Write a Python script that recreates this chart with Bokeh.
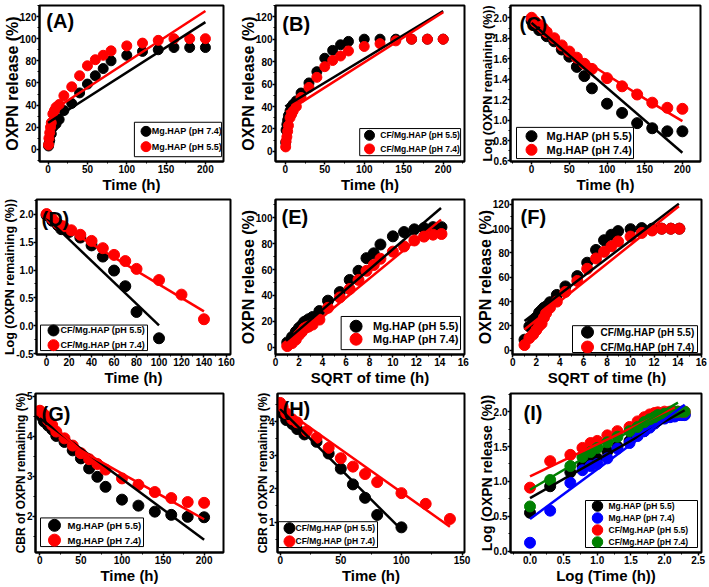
from bokeh.plotting import figure
from bokeh.layouts import column, row
from bokeh.models import Range1d, SingleIntervalTicker, NumeralTickFormatter
from bokeh.core.properties import value
from bokeh.embed import file_html
from bokeh.resources import INLINE

FONT = "Liberation Sans"
BLK, RED, BLU, GRN = "#000000", "#ff0000", "#0000ff", "#008000"

# ---------------- data ----------------
# (A) Mg.HAP release vs time
a_t_74 = [0.5, 1, 2, 4, 6, 10, 14, 20, 30, 40, 50, 60, 70, 80, 100, 120, 140, 160, 180, 200]
a_v_74 = [3, 5, 8, 14, 20, 23, 27, 35, 41.5, 51, 59, 66.5, 73, 80, 85, 88.5, 90, 92, 92, 92]
a_t_55 = [0.5, 1, 2, 3, 4, 6, 8, 10, 14, 20, 30, 40, 50, 60, 70, 80, 100, 120, 140, 160, 180, 200]
a_v_55 = [4, 10, 15, 20, 24, 32, 35, 38, 40.5, 48.5, 56.5, 66.5, 75.5, 81, 85, 89, 93.5, 96, 98.5, 100, 100, 100]
a_fit_74_x = [0, 200]
a_fit_74_y = [24, 115]
a_fit_55_x = [1, 200]
a_fit_55_y = [33, 125]

# (B) CF/Mg.HAP release vs time
b_t = [0.5, 1, 2, 3, 4, 6, 8, 10, 14, 20, 30, 40, 50, 60, 70, 80, 100, 120, 140, 160, 180, 200]
b_v_55 = [8, 19, 24, 28, 32, 36, 40, 42, 45, 52, 61, 71, 83, 90, 95, 98, 100, 100, 100, 100, 100, 100]
b_v_74 = [4, 9, 13, 18, 23, 30, 33, 36, 40, 48, 57, 66, 75.5, 81, 85, 89.5, 93.5, 96, 98.5, 100, 100, 100]
b_fit_55_x = [0, 200]
b_fit_55_y = [40, 125]
b_fit_74_x = [1, 200]
b_fit_74_y = [35, 124]

# (C) Mg.HAP log remaining
c_t_55 = [0, 5, 10, 20, 30, 40, 50, 60, 70, 80, 100, 120, 140, 160, 180, 200]
c_v_55 = [1.97, 1.93, 1.88, 1.82, 1.77, 1.69, 1.62, 1.52, 1.43, 1.31, 1.16, 1.07, 0.97, 0.92, 0.89, 0.89]
c_t_74 = [0, 5, 10, 15, 20, 30, 40, 50, 60, 70, 80, 100, 120, 140, 160, 180, 200]
c_v_74 = [2.0, 1.96, 1.93, 1.90, 1.86, 1.80, 1.73, 1.67, 1.61, 1.55, 1.50, 1.41, 1.33, 1.25, 1.17, 1.12, 1.11]
c_fit_55_x = [0, 200]
c_fit_55_y = [1.95, 0.68]
c_fit_74_x = [0, 50, 100, 150, 200]
c_fit_74_y = [1.99, 1.68, 1.44, 1.21, 0.99]

# (D) CF/Mg.HAP log remaining
d_t_55 = [0, 5, 10, 13, 20, 30, 40, 50, 60, 70, 80, 100]
d_v_55 = [1.98, 1.88, 1.80, 1.73, 1.68, 1.58, 1.44, 1.24, 0.99, 0.71, 0.25, -0.22]
d_t_74 = [0, 5, 10, 15, 22, 30, 40, 50, 60, 70, 80, 100, 120, 140]
d_v_74 = [2.0, 1.91, 1.83, 1.78, 1.71, 1.63, 1.52, 1.39, 1.27, 1.16, 1.02, 0.82, 0.56, 0.12]
d_fit_55_x = [0, 100]
d_fit_55_y = [1.93, 0.01]
d_fit_74_x = [0, 140]
d_fit_74_y = [1.95, 0.26]

# (E)/(F) release vs square root of time
sq_t = [1.0, 1.41, 1.73, 2.0, 2.24, 2.45, 2.65, 2.83, 3.16, 3.74, 4.47, 5.48, 6.32,
        7.07, 7.75, 8.37, 8.94, 10.0, 10.95, 11.83, 12.65, 13.42, 14.14]
e_v_55 = [3.8, 8, 12, 15, 17, 19.6, 20.5, 21.7, 23.4, 28, 36, 42.6, 52, 59, 68.8, 72.5,
          79.3, 85.6, 88.9, 91, 92, 92.7, 92.7]
e_v_74 = [1, 3.3, 6, 9.6, 12, 14.6, 15.5, 16.1, 17.6, 21.4, 30.5, 38.5, 45, 52, 59, 63.5,
          68.3, 73.8, 77.8, 82.4, 85.4, 86.9, 87.4]
e_fit_55_x = [0.9, 14.1]
e_fit_55_y = [5, 107.5]
e_fit_74_x = [1, 14.1]
e_fit_74_y = [1, 98.5]
f_v_55 = [8.7, 19.6, 24, 27, 31, 33, 35, 36, 39.5, 45.5, 52.5, 61, 72, 82.5, 90.5, 95,
          98, 99.6, 100.5, 100, 100, 100, 100]
f_v_74 = [4.3, 10, 13, 16.6, 20, 22, 27, 30.5, 35, 40, 48, 57, 67, 75.5, 81, 85.5, 89.5,
          93.5, 96.5, 98.5, 100, 100, 100]
f_fit_55_x = [1, 14.1]
f_fit_55_y = [24, 120.5]
f_fit_74_x = [1, 14.1]
f_fit_74_y = [17, 118.5]

# (G) Mg.HAP cube root remaining
g_t_55 = [0, 2, 5, 10, 15, 20, 30, 40, 50, 60, 70, 80, 100, 120, 140, 160, 180, 200]
g_v_55 = [4.62, 4.5, 4.37, 4.27, 4.17, 4.01, 3.86, 3.65, 3.45, 3.20, 2.99, 2.74, 2.42,
          2.27, 2.12, 2.04, 1.99, 1.98]
g_t_74 = [0, 5, 10, 15, 20, 30, 40, 50, 60, 70, 80, 100, 120, 140, 160, 180, 200]
g_v_74 = [4.64, 4.55, 4.40, 4.28, 4.12, 3.95, 3.77, 3.58, 3.43, 3.31, 3.17, 2.95, 2.79,
          2.61, 2.46, 2.36, 2.34]
g_fit_55_x = [0, 200]
g_fit_55_y = [4.45, 1.42]
g_fit_74_x = [0, 25, 50, 100, 150, 200]
g_fit_74_y = [4.6, 4.1, 3.65, 3.07, 2.5, 1.93]

# (H) CF/Mg.HAP cube root remaining
h_t_55 = [0, 2, 5, 10, 14, 20, 30, 40, 50, 60, 70, 80, 100]
h_v_55 = [4.3, 4.25, 4.05, 3.93, 3.78, 3.62, 3.40, 3.05, 2.60, 2.13, 1.73, 1.22, 0.85]
h_t_74 = [0, 2, 5, 10, 14, 22, 30, 40, 50, 60, 70, 80, 100, 120, 140]
h_v_74 = [4.56, 4.45, 4.25, 4.07, 3.98, 3.72, 3.52, 3.22, 2.91, 2.66, 2.44, 2.20, 1.87,
          1.55, 1.10]
h_fit_55_x = [0, 100]
h_fit_55_y = [4.38, 0.78]
h_fit_74_x = [0, 140]
h_fit_74_y = [4.45, 0.87]

# (I) log release vs log time
i_t = [0, 0.30, 0.60, 0.78, 0.90, 1.0, 1.15, 1.30, 1.48, 1.60, 1.70, 1.78, 1.85, 1.90,
       2.0, 2.08, 2.15, 2.20, 2.26, 2.30]
i_mg55 = [0.55, 0.93, 1.13, 1.22, 1.28, 1.33, 1.43, 1.50, 1.58, 1.66, 1.72, 1.78, 1.83,
          1.87, 1.91, 1.93, 1.94, 1.95, 1.96, 1.96]
i_mg74 = [0.12, 0.58, 0.98, 1.16, 1.22, 1.25, 1.33, 1.47, 1.55, 1.65, 1.72, 1.77, 1.83,
          1.87, 1.90, 1.92, 1.93, 1.95, 1.95, 1.95]
i_cf55 = [0.91, 1.29, 1.38, 1.48, 1.55, 1.58, 1.66, 1.72, 1.78, 1.86, 1.92, 1.96, 1.98,
          1.99, 2.0, 2.0, 2.0, 2.0, 2.0, 2.0]
i_cf74 = [0.64, 1.02, 1.22, 1.35, 1.42, 1.48, 1.56, 1.64, 1.72, 1.78, 1.85, 1.89, 1.92,
          1.95, 1.97, 1.98, 1.99, 2.0, 2.0, 2.0]
i_fit_mg55 = ([0, 2.3], [0.76, 2.02])
i_fit_mg74 = ([0, 2.3], [0.46, 2.10])
i_fit_cf55 = ([0, 2.15], [1.07, 2.06])
i_fit_cf74 = ([0, 2.2], [0.88, 2.13])


# ---------------- helpers ----------------
def make_panel(w, h, border, xr, yr, xint, yint, xlabel, ylabel, ylab_fs,
               yfmt=None, xfmt=None):
    l, r, t, b = border
    p = figure(width=w, height=h, x_range=Range1d(*xr), y_range=Range1d(*yr),
               output_backend="svg", toolbar_location=None,
               min_border_left=l, min_border_right=r, min_border_top=t,
               min_border_bottom=b, background_fill_color="white",
               border_fill_color="white")
    p._fw = w - l - r
    p._fh = h - t - b
    # pixel-like helper coordinates for annotations (legend box, panel letter)
    p.extra_x_ranges = {"px": Range1d(0, p._fw)}
    p.extra_y_ranges = {"px": Range1d(0, p._fh)}
    p.xgrid.visible = False
    p.ygrid.visible = False
    p.outline_line_color = "black"
    p.outline_line_width = 2
    for ax, itv in ((p.xaxis[0], xint), (p.yaxis[0], yint)):
        ax.ticker = SingleIntervalTicker(interval=itv, num_minor_ticks=2)
        ax.axis_line_width = 2
        ax.axis_line_color = "black"
        ax.major_tick_out = 3
        ax.major_tick_in = 0
        ax.minor_tick_out = 2
        ax.minor_tick_in = 0
        ax.major_tick_line_width = 1.5
        ax.minor_tick_line_width = 1
        ax.major_label_text_font = FONT
        ax.major_label_text_font_style = "bold"
        ax.major_label_text_font_size = "10px"
        ax.major_label_text_color = "black"
        ax.major_label_standoff = 0
        ax.axis_label_text_font = FONT
        ax.axis_label_text_font_style = "bold"
        ax.axis_label_text_color = "black"
    p.xaxis.axis_label_standoff = 0
    p.yaxis.axis_label_standoff = -4
    p.xaxis.axis_label = xlabel
    p.yaxis.axis_label = ylabel
    p.xaxis.axis_label_text_font_size = "15px"
    p.yaxis.axis_label_text_font_size = f"{ylab_fs}px"
    if yfmt:
        p.yaxis.formatter = NumeralTickFormatter(format=yfmt)
    if xfmt:
        p.xaxis.formatter = NumeralTickFormatter(format=xfmt)
    return p


def panel_label(p, text, dx, dtop):
    p.text(x=[dx], y=[p._fh - dtop], text=[text], text_font=value(FONT),
           text_font_style="bold", text_font_size=value("20px"),
           text_baseline="top", text_align="left", text_color="black",
           x_range_name="px", y_range_name="px")


def legend_box(p, labels, colors, left, bottom, bw, bh, cx, cy, pitch, tx, fs, m):
    p.quad(left=[left], right=[left + bw], bottom=[bottom], top=[bottom + bh],
           fill_color="white", line_color="black", line_width=1,
           x_range_name="px", y_range_name="px")
    ys = [bottom + bh - cy - i * pitch for i in range(len(labels))]
    p.scatter([left + cx] * len(labels), ys, marker="circle", size=m,
              fill_color=colors, line_color=colors,
              x_range_name="px", y_range_name="px")
    p.text(x=[left + tx] * len(labels), y=ys, text=labels, text_font=value(FONT),
           text_font_style="bold", text_font_size=value(f"{fs}px"),
           text_baseline="middle", text_align="left", text_color="black",
           x_range_name="px", y_range_name="px")


def pts(p, x, y, color, size=11):
    return p.scatter(x, y, marker="circle", size=size, fill_color=color,
                     line_color=color)


def fit(p, x, y, color):
    p.line(x, y, line_color=color, line_width=2.5)


# ---------------- panels ----------------
# A
pA = make_panel(236, 195, (33, 13, 5, 27), (-11, 223), (-11, 130), 50, 20,
                "Time (h)", "OXPN release (%)", 16)
pts(pA, a_t_74, a_v_74, BLK, 10)
pts(pA, a_t_55, a_v_55, RED, 10)
fit(pA, a_fit_74_x, a_fit_74_y, BLK)
fit(pA, a_fit_55_x, a_fit_55_y, RED)
panel_label(pA, "(A)", 7, 5)
legend_box(pA, ["Mg.HAP (pH 7.4)", "Mg.HAP (pH 5.5)"], [BLK, RED],
           98, 5, 90, 36, 12, 9.5, 16, 18, 9, 10)

# B
pB = make_panel(236, 195, (35, 8, 5, 29), (-12.4, 227), (-9, 130), 50, 20,
                "Time (h)", "OXPN release (%)", 16)
pts(pB, b_t, b_v_55, BLK, 10)
pts(pB, b_t, b_v_74, RED, 10)
fit(pB, b_fit_55_x, b_fit_55_y, BLK)
fit(pB, b_fit_74_x, b_fit_74_y, RED)
panel_label(pB, "(B)", 7, 8)
legend_box(pB, ["CF/Mg.HAP (pH 5.5)", "CF/Mg.HAP (pH 7.4)"], [BLK, RED],
           86, 6, 103, 28, 10, 7, 14, 21, 8.5, 10)

# C
pC = make_panel(237, 195, (38, 9, 2, 33), (-28, 224), (0.595, 2.12), 50, 0.2,
                "Time (h)", "Log (OXPN remaining (%))", 12.5, yfmt="0.0")
pts(pC, c_t_55, c_v_55, BLK, 11)
pts(pC, c_t_74, c_v_74, RED, 11)
fit(pC, c_fit_55_x, c_fit_55_y, BLK)
fit(pC, c_fit_74_x, c_fit_74_y, RED)
panel_label(pC, "(C)", 9, 8)
legend_box(pC, ["Mg.HAP (pH 5.5)", "Mg.HAP (pH 7.4)"], [BLK, RED],
           6, 3, 117, 32, 15, 9, 14, 30, 11, 11)

# D
pD = make_panel(236, 195, (36, 6, 4, 33), (-9, 163.6), (-0.51, 2.26), 20, 0.5,
                "Time (h)", "Log (OXPN remaining (%))", 12.5, yfmt="0.0")
pts(pD, d_t_55, d_v_55, BLK, 11)
pts(pD, d_t_74, d_v_74, RED, 11)
fit(pD, d_fit_55_x, d_fit_55_y, BLK)
fit(pD, d_fit_74_x, d_fit_74_y, RED)
panel_label(pD, "(D)", 5, 9)
legend_box(pD, ["CF/Mg.HAP (pH 5.5)", "CF/Mg.HAP (pH 7.4)"], [BLK, RED],
           4, 4, 107, 26, 13, 5.5, 15, 20, 9, 11)

# E
pE = make_panel(236, 195, (38, 8, 3, 33), (0, 16.1), (-5.5, 114), 2, 20,
                "SQRT of time (h)", "OXPN release (%)", 16)
pts(pE, sq_t, e_v_55, BLK, 11)
pts(pE, sq_t, e_v_74, RED, 11)
fit(pE, e_fit_55_x, e_fit_55_y, BLK)
fit(pE, e_fit_74_x, e_fit_74_y, RED)
panel_label(pE, "(E)", 6, 7)
legend_box(pE, ["Mg.HAP (pH 5.5)", "Mg.HAP (pH 7.4)"], [BLK, RED],
           66, 5, 120, 34, 15, 10, 13.3, 32, 11, 12)

# F
pF = make_panel(237, 195, (40, 8, 3, 36), (-0.02, 16.02), (-3.5, 124), 2, 20,
                "SQRT of time (h)", "OXPN release (%)", 16)
pts(pF, sq_t, f_v_55, BLK, 11)
pts(pF, sq_t, f_v_74, RED, 11)
fit(pF, f_fit_55_x, f_fit_55_y, BLK)
fit(pF, f_fit_74_x, f_fit_74_y, RED)
panel_label(pF, "(F)", 8, 7)
legend_box(pF, ["CF/Mg.HAP (pH 5.5)", "CF/Mg.HAP (pH 7.4)"], [BLK, RED],
           60, 2, 125, 27, 15, 6.5, 15, 28, 10, 12)

# G
pG = make_panel(236, 197, (35, 13, 3, 33), (-5.3, 223.6), (1.1, 5.07), 50, 1,
                "Time (h)", "CBR of OXPN remaining (%)", 12)
pts(pG, g_t_55, g_v_55, BLK, 11)
pts(pG, g_t_74, g_v_74, RED, 11)
fit(pG, g_fit_55_x, g_fit_55_y, BLK)
fit(pG, g_fit_74_x, g_fit_74_y, RED)
panel_label(pG, "(G)", 6, 10)
legend_box(pG, ["Mg.HAP (pH 5.5)", "Mg.HAP (pH 7.4)"], [BLK, RED],
           5, 6, 103, 29, 14, 7.5, 15, 27, 9.5, 12)

# H
pH = make_panel(236, 197, (41, 8, 3, 34), (-2.2, 152), (0.1, 4.84), 50, 1,
                "Time (h)", "CBR of OXPN remaining (%)", 12)
pts(pH, h_t_55, h_v_55, BLK, 11)
pts(pH, h_t_74, h_v_74, RED, 11)
fit(pH, h_fit_55_x, h_fit_55_y, BLK)
fit(pH, h_fit_74_x, h_fit_74_y, RED)
panel_label(pH, "(H)", 5, 5)
legend_box(pH, ["CF/Mg.HAP (pH 5.5)", "CF/Mg.HAP (pH 7.4)"], [BLK, RED],
           1, 5, 99, 26, 11, 6.5, 13.3, 17, 8.5, 11)

# I
pI = make_panel(237, 197, (38, 8, 3, 35), (-0.29, 2.55), (-0.02, 2.26), 0.5, 0.5,
                "Log (Time (h))", "Log (OXPN release (%))", 14, yfmt="0.0", xfmt="0.0")
pts(pI, i_t, i_mg55, BLK, 11)
pts(pI, i_t, i_mg74, BLU, 11)
pts(pI, i_t, i_cf55, RED, 11)
pts(pI, i_t, i_cf74, GRN, 11)
fit(pI, *i_fit_mg55, BLK)
fit(pI, *i_fit_mg74, BLU)
fit(pI, *i_fit_cf55, RED)
fit(pI, *i_fit_cf74, GRN)
panel_label(pI, "(I)", 13, 8)
legend_box(pI, ["Mg.HAP (pH 5.5)", "Mg.HAP (pH 7.4)", "CF/Mg.HAP (pH 5.5)",
                "CF/Mg.HAP (pH 7.4)"], [BLK, BLU, RED, GRN],
           75, 5, 112, 47, 12, 5.5, 12, 23, 8.5, 10.5)

layout = column(row(pA, pB, pC), row(pD, pE, pF), row(pG, pH, pI))
open("out.html", "w").write(file_html(layout, INLINE))
